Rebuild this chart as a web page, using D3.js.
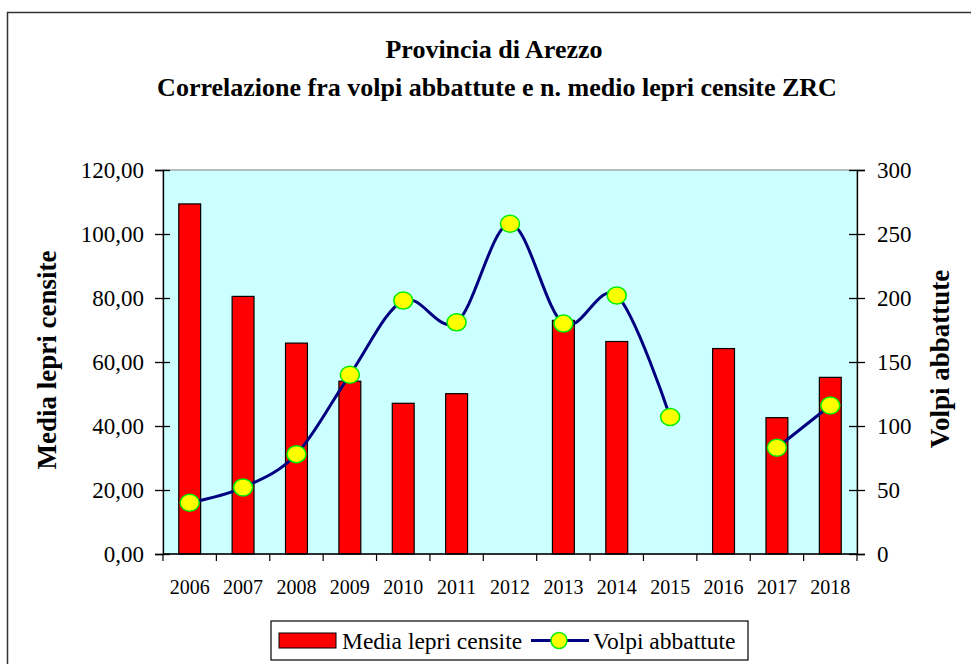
<!DOCTYPE html>
<html>
<head>
<meta charset="utf-8">
<script src="https://cdn.jsdelivr.net/npm/d3@7"></script>
<style>
  body { margin: 0; background: #fff; }
  svg text { font-family: "Liberation Serif", "DejaVu Serif", serif; fill: #000; }
</style>
</head>
<body>
<div id="chart"></div>
<script>
// chart values
const years = ['2006', '2007', '2008', '2009', '2010', '2011', '2012', '2013', '2014', '2015', '2016', '2017', '2018'];
const lepri = [109.4, 80.5, 65.9, 54.0, 47.1, 50.1, null, 73.0, 66.4, null, 64.2, 42.6, 55.2];
const volpi = [40, 52, 78, 140, 198, 181, 258, 180, 202, 107, null, 83, 116];
const leftTicks = [0, 20, 40, 60, 80, 100, 120];
const rightTicks = [0, 50, 100, 150, 200, 250, 300];

const FONT = '"Liberation Serif", "DejaVu Serif", serif';
const W = 971, H = 664;
const margin = { top: 170, right: 114, bottom: 110, left: 163 };
const width = W - margin.left - margin.right;
const height = H - margin.top - margin.bottom;

const svg = d3.select('#chart').append('svg')
	.attr('width', W)
	.attr('height', H)
	.attr('font-family', FONT);

// outer frame
svg.append('rect')
	.attr('x', 7.5).attr('y', 12.5)
	.attr('width', W + 10).attr('height', H + 10)
	.attr('fill', 'none')
	.attr('stroke', '#333')
	.attr('stroke-width', 1.5);

// titles
svg.append('text')
	.attr('x', 494).attr('y', 58)
	.attr('text-anchor', 'middle')
	.attr('font-weight', 'bold')
	.attr('font-size', 26)
	.text('Provincia di Arezzo');
svg.append('text')
	.attr('x', 497).attr('y', 96)
	.attr('text-anchor', 'middle')
	.attr('font-weight', 'bold')
	.attr('font-size', 26)
	.text('Correlazione fra volpi abbattute e n. medio lepri censite ZRC');

const g = svg.append('g')
	.attr('transform', 'translate(' + margin.left + ',' + margin.top + ')');

const x = d3.scaleBand().domain(years).range([0, width]).paddingInner(0.59).paddingOuter(0.295);
const xc = d3.scaleBand().domain(years).range([0, width]);
const yL = d3.scaleLinear().domain([0, 120]).range([height, 0]);
const yR = d3.scaleLinear().domain([0, 300]).range([height, 0]);

// plot background
g.append('rect')
	.attr('width', width).attr('height', height)
	.attr('fill', '#ccffff')
	.attr('stroke', '#808080')
	.attr('stroke-width', 1);

// bars
g.selectAll('.bar')
	.data(years.map((y, i) => ({ year: y, v: lepri[i] })).filter(d => d.v != null))
	.enter().append('rect')
	.attr('class', 'bar')
	.attr('x', d => x(d.year))
	.attr('width', x.bandwidth())
	.attr('y', d => yL(d.v))
	.attr('height', d => height - yL(d.v))
	.attr('fill', '#ff0000')
	.attr('stroke', '#000')
	.attr('stroke-width', 1.2);

// line
const pts = years.map((y, i) => ({ year: y, v: volpi[i] }));
const line = d3.line()
	.defined(d => d.v != null)
	.x(d => xc(d.year) + xc.bandwidth() / 2)
	.y(d => yR(d.v))
	.curve(d3.curveCardinal.tension(0));
g.append('path')
	.datum(pts)
	.attr('d', line)
	.attr('fill', 'none')
	.attr('stroke', '#000080')
	.attr('stroke-width', 3);

g.selectAll('.dot')
	.data(pts.filter(d => d.v != null))
	.enter().append('ellipse')
	.attr('class', 'dot')
	.attr('cx', d => xc(d.year) + xc.bandwidth() / 2)
	.attr('cy', d => yR(d.v))
	.attr('rx', 9.5).attr('ry', 8.5)
	.attr('fill', '#ffff00')
	.attr('stroke', '#00ee00')
	.attr('stroke-width', 1.5);

// axes
const axL = g.append('g')
	.call(d3.axisLeft(yL).tickValues(leftTicks).tickSize(8).tickPadding(11)
		.tickFormat(d => d3.format('.2f')(d).replace('.', ',')));
const axR = g.append('g')
	.attr('transform', 'translate(' + width + ',0)')
	.call(d3.axisRight(yR).tickValues(rightTicks).tickSize(8).tickPadding(12));
[axL, axR].forEach(a => {
	a.attr('font-family', FONT);
	a.select('.domain').attr('stroke', '#000').attr('stroke-width', 1.3);
	a.selectAll('.tick line').attr('stroke', '#000').attr('stroke-width', 1.3);
	a.selectAll('.tick text').attr('font-size', 23);
});
// ticks cross the axis
axL.selectAll('.tick line').attr('x2', -8).attr('x1', 7);
axR.selectAll('.tick line').attr('x2', 8).attr('x1', -8);

const axB = g.append('g')
	.attr('transform', 'translate(0,' + height + ')');
axB.append('line')
	.attr('x1', 0).attr('x2', width)
	.attr('stroke', '#000').attr('stroke-width', 1.3);
axB.selectAll('.tk')
	.data(d3.range(years.length + 1))
	.enter().append('line')
	.attr('class', 'tk')
	.attr('x1', i => i * xc.step()).attr('x2', i => i * xc.step())
	.attr('y1', 0).attr('y2', 7)
	.attr('stroke', '#000').attr('stroke-width', 1.2);
axB.selectAll('.yl')
	.data(years)
	.enter().append('text')
	.attr('class', 'yl')
	.attr('x', d => xc(d) + xc.bandwidth() / 2)
	.attr('y', 40)
	.attr('text-anchor', 'middle')
	.attr('font-size', 20)
	.text(d => d);

// axis titles
svg.append('text')
	.attr('transform', 'translate(56,360) rotate(-90)')
	.attr('text-anchor', 'middle')
	.attr('font-weight', 'bold')
	.attr('font-size', 27)
	.text('Media lepri censite');
svg.append('text')
	.attr('transform', 'translate(949,359) rotate(-90)')
	.attr('text-anchor', 'middle')
	.attr('font-weight', 'bold')
	.attr('font-size', 27)
	.text('Volpi abbattute');

// legend
const lg = svg.append('g').attr('transform', 'translate(271,621)');
lg.append('rect')
	.attr('width', 477).attr('height', 39)
	.attr('fill', '#fff')
	.attr('stroke', '#000').attr('stroke-width', 1.2);
lg.append('rect')
	.attr('x', 8).attr('y', 12).attr('width', 57).attr('height', 15)
	.attr('fill', '#ff0000').attr('stroke', '#000').attr('stroke-width', 1);
lg.append('text')
	.attr('x', 71).attr('y', 28)
	.attr('font-size', 23.5)
	.text('Media lepri censite');
lg.append('line')
	.attr('x1', 260).attr('x2', 318).attr('y1', 19.5).attr('y2', 19.5)
	.attr('stroke', '#000080').attr('stroke-width', 3);
lg.append('ellipse')
	.attr('cx', 288).attr('cy', 19.5).attr('rx', 8).attr('ry', 8)
	.attr('fill', '#ffff00').attr('stroke', '#00ee00').attr('stroke-width', 1.5);
lg.append('text')
	.attr('x', 322).attr('y', 28)
	.attr('font-size', 23.5)
	.text('Volpi abbattute');
</script>
</body>
</html>
